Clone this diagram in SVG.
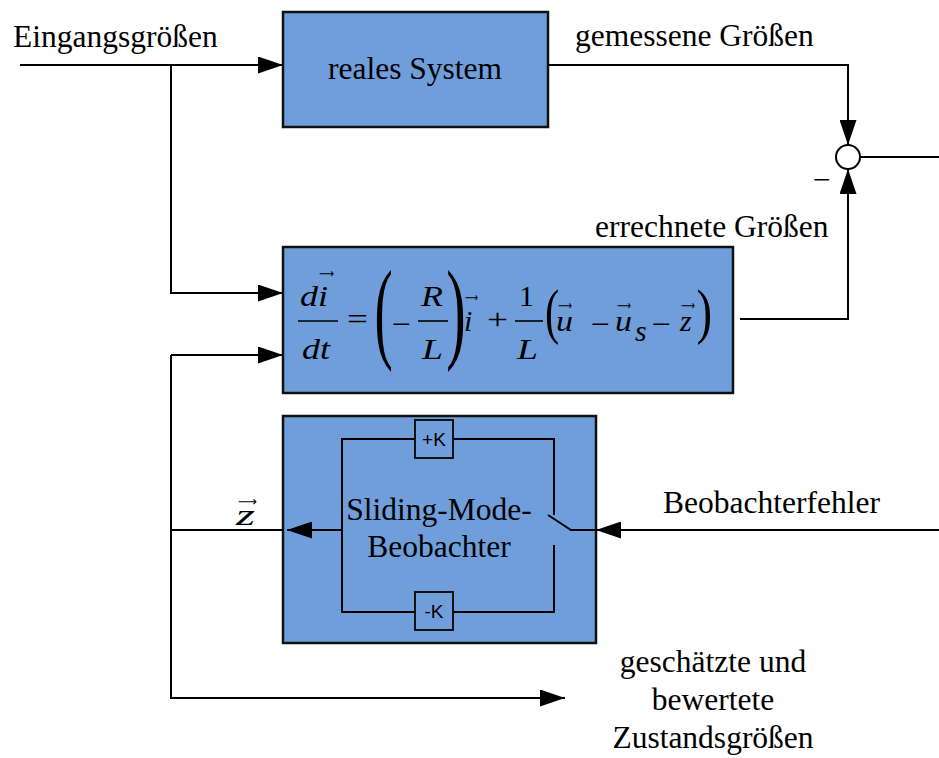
<svg xmlns="http://www.w3.org/2000/svg" width="939" height="758" viewBox="0 0 939 758">
  <defs>
    <style>
      .box { fill: #6f9edb; stroke: #111; stroke-width: 2.5; }
      .kbox { fill: #6f9edb; stroke: #111; stroke-width: 2; }
      .wire { fill: none; stroke: #000; stroke-width: 2; }
      .lbl { font-family: "Liberation Serif", "Times New Roman", serif; font-size: 31.5px; fill: #000; }
      .mid { text-anchor: middle; }
      .k { font-family: "Liberation Sans", Arial, sans-serif; font-size: 19px; text-anchor: middle; fill: #000; }
      .m { font-family: "Liberation Serif", "Times New Roman", serif; font-size: 30px; font-style: italic; fill: #000; }
      .op { font-family: "Liberation Serif", "Times New Roman", serif; font-size: 30px; fill: #000; }
      .par { font-family: "Liberation Serif", "Times New Roman", serif; fill: #000; }
      .vec { font-family: "DejaVu Sans", sans-serif; font-size: 13px; fill: #000; }
      .bar { stroke: #000; stroke-width: 1.6; }
    </style>
    <marker id="ah" viewBox="0 0 25 17" refX="25" refY="8.5" markerWidth="25" markerHeight="17" orient="auto" markerUnits="userSpaceOnUse">
      <path d="M0,0 L25,8.5 L0,17 z" fill="#000"/>
    </marker>
  </defs>

  <!-- plant -->
  <g id="real-system">
    <rect class="box" x="283" y="12" width="265" height="115"/>
    <text class="lbl mid" x="415" y="79">reales System</text>
  </g>

  <!-- observer model equation -->
  <g id="observer-model">
    <rect class="box" x="283" y="247" width="450" height="146"/>
    <text class="m" x="300" y="306" textLength="28" lengthAdjust="spacingAndGlyphs">di</text>
    <text class="vec" x="319" y="278" textLength="15" lengthAdjust="spacingAndGlyphs">⟶</text>
    <line class="bar" x1="298" y1="321" x2="338" y2="321"/>
    <text class="m" x="302" y="359" textLength="28" lengthAdjust="spacingAndGlyphs">dt</text>
    <text class="op" x="347" y="329" textLength="21" lengthAdjust="spacingAndGlyphs">=</text>
    <text class="par" font-size="112.5" transform="translate(374.4,348) scale(0.486,1)">(</text>
    <text class="op" x="392" y="334" textLength="19" lengthAdjust="spacingAndGlyphs">−</text>
    <text class="m" x="421" y="306" textLength="22" lengthAdjust="spacingAndGlyphs">R</text>
    <line class="bar" x1="418" y1="321" x2="448" y2="321"/>
    <text class="m" x="422" y="359" textLength="21" lengthAdjust="spacingAndGlyphs">L</text>
    <text class="par" font-size="112.5" transform="translate(446.3,348) scale(0.52,1)">)</text>
    <text class="m" x="464" y="331">i</text>
    <text class="vec" x="465" y="302" textLength="13" lengthAdjust="spacingAndGlyphs">⟶</text>
    <text class="op" x="487" y="329" textLength="21" lengthAdjust="spacingAndGlyphs">+</text>
    <text class="op" x="519" y="306">1</text>
    <line class="bar" x1="515" y1="321" x2="543" y2="321"/>
    <text class="m" x="517" y="359" textLength="21" lengthAdjust="spacingAndGlyphs">L</text>
    <text class="par" font-size="62" transform="translate(545,332) scale(0.69,1)">(</text>
    <text class="m" x="556" y="331" textLength="17" lengthAdjust="spacingAndGlyphs">u</text>
    <text class="vec" x="558" y="310" textLength="14" lengthAdjust="spacingAndGlyphs">⟶</text>
    <text class="op" x="591" y="334" textLength="19" lengthAdjust="spacingAndGlyphs">−</text>
    <text class="m" x="615" y="331" textLength="17" lengthAdjust="spacingAndGlyphs">u</text>
    <text class="vec" x="617" y="310" textLength="14" lengthAdjust="spacingAndGlyphs">⟶</text>
    <text class="m" x="635" y="341" font-size="15">s</text>
    <text class="op" x="652" y="334" textLength="19" lengthAdjust="spacingAndGlyphs">−</text>
    <text class="m" x="680" y="331">z</text>
    <text class="vec" x="681" y="310" textLength="14" lengthAdjust="spacingAndGlyphs">⟶</text>
    <text class="par" font-size="62" transform="translate(696.6,332) scale(0.755,1)">)</text>
  </g>

  <!-- sliding mode observer with switching gain -->
  <g id="sliding-mode-observer">
    <rect class="box" x="283" y="416" width="313" height="227"/>
    <path class="wire" d="M415,439 H342 V612 H415 M453,439 H554 V515 M548,515 L571,530 H596 M554,545 V612 H453"/>
    <path class="wire" d="M342,530 H287" marker-end="url(#ah)"/>
    <rect class="kbox" x="415" y="420" width="38" height="38"/>
    <text class="k" x="434" y="446">+K</text>
    <rect class="kbox" x="415" y="592" width="38" height="38"/>
    <text class="k" x="434" y="618">-K</text>
    <text class="lbl mid" x="439" y="520">Sliding-Mode-</text>
    <text class="lbl mid" x="439" y="557">Beobachter</text>
  </g>

  <!-- comparison point -->
  <g id="sum-junction">
    <circle cx="848" cy="157" r="12" fill="#fff" stroke="#000" stroke-width="2"/>
    <text class="lbl" x="813" y="190">−</text>
  </g>

  <!-- signal lines -->
  <g id="connectors">
    <path class="wire" d="M20,65 H283" marker-end="url(#ah)"/>
    <path class="wire" d="M171,65 V293 H283" marker-end="url(#ah)"/>
    <path class="wire" d="M548,65 H848 V145" marker-end="url(#ah)"/>
    <path class="wire" d="M740,319 H848 V169" marker-end="url(#ah)"/>
    <path class="wire" d="M860,157 H939"/>
    <path class="wire" d="M939,530 H596" marker-end="url(#ah)"/>
    <path class="wire" d="M284,530 H171"/>
    <path class="wire" d="M171,355 V698 H565" marker-end="url(#ah)"/>
    <path class="wire" d="M171,355 H283" marker-end="url(#ah)"/>
  </g>

  <!-- signal labels -->
  <g id="labels">
    <text class="lbl" x="13" y="47">Eingangsgrößen</text>
    <text class="lbl" x="575" y="46">gemessene Größen</text>
    <text class="lbl" x="595" y="237">errechnete Größen</text>
    <text class="lbl" x="663" y="513">Beobachterfehler</text>
    <text class="m" x="236" y="525" font-size="34" textLength="19" lengthAdjust="spacingAndGlyphs">z</text>
    <text class="vec" x="238" y="506" font-size="15" textLength="19" lengthAdjust="spacingAndGlyphs">⟶</text>
    <text class="lbl mid" x="713" y="672">geschätzte und</text>
    <text class="lbl mid" x="713" y="710">bewertete</text>
    <text class="lbl mid" x="713" y="748">Zustandsgrößen</text>
  </g>
</svg>
